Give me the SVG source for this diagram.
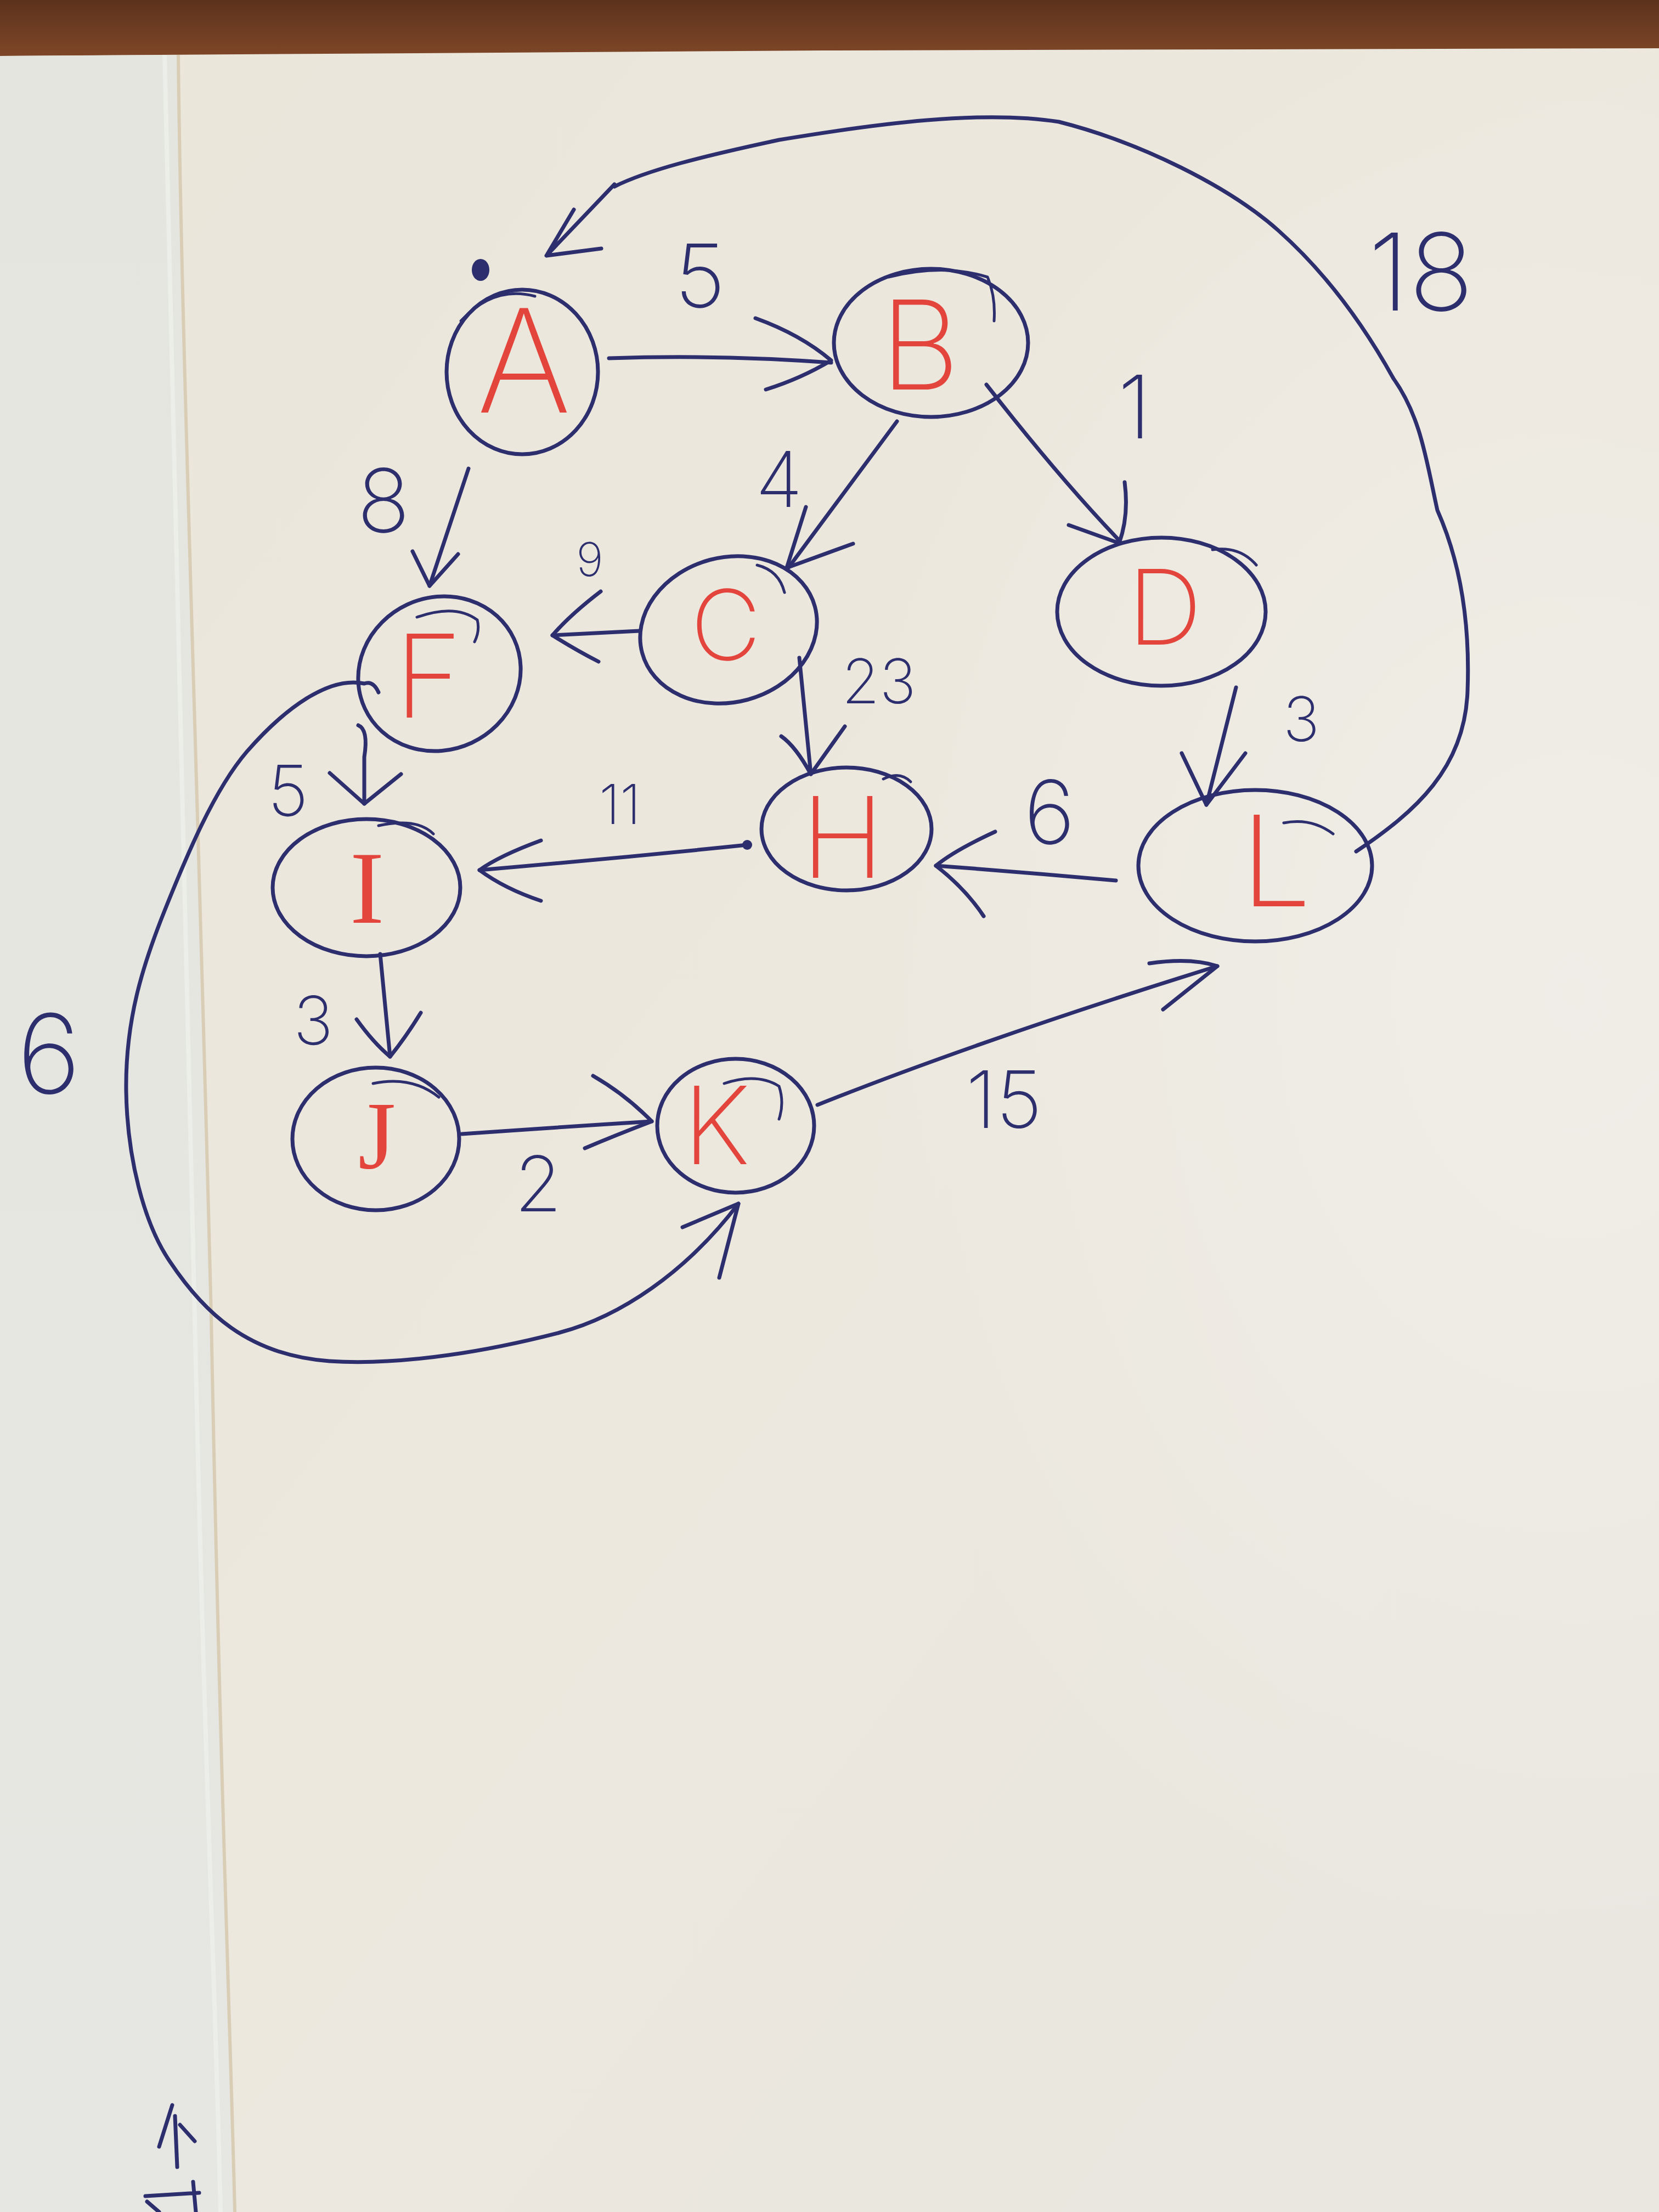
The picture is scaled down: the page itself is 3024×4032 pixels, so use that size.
<svg xmlns="http://www.w3.org/2000/svg" width="3024" height="4032" viewBox="0 0 3024 4032">
<defs>
<linearGradient id="wood" x1="0" y1="0" x2="0" y2="1">
<stop offset="0" stop-color="#5c321c"/>
<stop offset="1" stop-color="#7e4628"/>
</linearGradient>
<linearGradient id="paperR" x1="0" y1="0" x2="1" y2="1">
<stop offset="0" stop-color="#ebe6da"/>
<stop offset="0.5" stop-color="#ece8de"/>
<stop offset="1" stop-color="#e9e7e0"/>
</linearGradient>
<radialGradient id="glow" cx="0.95" cy="0.45" r="0.45">
<stop offset="0" stop-color="#f1efe9" stop-opacity="0.8"/>
<stop offset="1" stop-color="#f1efe9" stop-opacity="0"/>
</radialGradient>
<linearGradient id="paperL" x1="0" y1="0" x2="0" y2="1">
<stop offset="0" stop-color="#e4e5df"/>
<stop offset="1" stop-color="#e6e7e2"/>
</linearGradient>
<style>
.ink{fill:none;stroke:#2c2e6e;stroke-width:7;stroke-linecap:round;stroke-linejoin:round}
.node{fill:none;stroke:#2c2e6e;stroke-width:7}
.scrib{fill:none;stroke:#2c2e6e;stroke-width:5;stroke-linecap:round}
.lbl{font-family:"Inter","Lato","Open Sans","Liberation Sans",sans-serif;font-weight:200;fill:#2c2e6e;text-anchor:middle}
.let{font-family:"Inter","Lato","Open Sans","Liberation Sans",sans-serif;font-weight:200;fill:#e3453d;text-anchor:middle}
.serif{font-family:"Liberation Serif",serif;font-weight:normal}
</style>
</defs>

<!-- background: table and paper -->
<rect x="0" y="0" width="3024" height="4032" fill="url(#paperR)"/>
<rect x="0" y="0" width="3024" height="4032" fill="url(#glow)"/>
<path d="M0,0 H3024 V88 L1500,92 L0,102 Z" fill="url(#wood)"/>
<path d="M0,102 L325,100 C330,600 360,1400 385,2400 C400,3200 420,3700 428,4032 L0,4032 Z" fill="url(#paperL)"/>
<path d="M325,100 C330,600 360,1400 385,2400 C400,3200 420,3700 428,4032" fill="none" stroke="#d9cdb6" stroke-width="6"/>
<path d="M300,100 C305,600 330,1400 355,2400 C372,3200 395,3700 402,4032" fill="none" stroke="#eef0ec" stroke-width="8" opacity="0.8"/>

<!-- connectors -->
<g id="connectors">
<!-- A -> B (5) -->
<path class="ink" d="M1110,653 Q1310,646 1515,661"/>
<path class="ink" d="M1377,580 Q1460,610 1515,657 Q1460,690 1396,710"/>
<!-- B -> C (4) -->
<path class="ink" d="M1635,768 L1437,1035"/>
<path class="ink" d="M1469,924 L1434,1035 L1555,991"/>
<!-- B -> D (1) -->
<path class="ink" d="M1798,701 Q1930,870 2040,985"/>
<path class="ink" d="M2050,879 Q2058,940 2040,990 L1948,957"/>
<!-- A -> F (8) -->
<path class="ink" d="M854,854 L783,1068"/>
<path class="ink" d="M752,1005 L783,1068 L835,1010"/>
<!-- C -> F (9) -->
<path class="ink" d="M1165,1150 L1007,1158"/>
<path class="ink" d="M1095,1078 Q1040,1120 1007,1158 Q1050,1185 1091,1206"/>
<!-- C -> H (23) -->
<path class="ink" d="M1457,1199 L1478,1411"/>
<path class="ink" d="M1424,1342 Q1450,1360 1478,1411 L1540,1324"/>
<!-- D -> L (3) -->
<path class="ink" d="M2253,1253 L2199,1467"/>
<path class="ink" d="M2154,1373 L2199,1467 L2270,1373"/>
<!-- L -> H (6) -->
<path class="ink" d="M2034,1605 Q1870,1590 1706,1578"/>
<path class="ink" d="M1814,1516 Q1740,1550 1706,1578 Q1760,1620 1793,1670"/>
<!-- H -> I (11) -->
<path class="ink" d="M1362,1540 Q1120,1565 874,1586"/>
<circle cx="1362" cy="1540" r="9" fill="#2c2e6e"/>
<path class="ink" d="M986,1532 Q910,1560 874,1586 Q920,1620 986,1642"/>
<!-- F -> I (5) -->
<path class="ink" d="M653,1322 Q672,1330 664,1380 L664,1465"/>
<path class="ink" d="M601,1409 L664,1465 L731,1411"/>
<!-- I -> J (3) -->
<path class="ink" d="M693,1739 L711,1926"/>
<path class="ink" d="M650,1858 Q680,1900 711,1926 Q740,1890 767,1846"/>
<!-- J -> K (2) -->
<path class="ink" d="M842,2067 Q1010,2055 1188,2044"/>
<path class="ink" d="M1081,1961 Q1140,1995 1188,2044 Q1120,2070 1066,2093"/>
<!-- K -> L (15) -->
<path class="ink" d="M1490,2014 C1650,1950 1900,1860 2219,1761"/>
<path class="ink" d="M2095,1756 Q2170,1745 2219,1761 L2120,1840"/>
<!-- F -> K (6) -->
<path class="ink" d="M690,1262 Q680,1240 664,1246 C600,1232 520,1290 450,1370 C390,1440 340,1560 300,1660 C260,1760 228,1860 230,1990 C232,2110 262,2230 310,2300 C370,2390 450,2470 600,2481 C740,2490 900,2460 1020,2429 C1130,2400 1250,2320 1346,2194"/>
<path class="ink" d="M1244,2237 L1346,2194 L1311,2329"/>
<!-- L -> A (18) -->
<path class="ink" d="M2472,1552 C2580,1480 2670,1400 2675,1260 C2680,1130 2660,1020 2620,930 C2600,840 2590,760 2540,690 C2490,600 2420,500 2330,420 C2240,340 2080,260 1930,222 C1790,200 1600,225 1420,255 C1280,285 1180,310 1120,340"/>
<path class="ink" d="M1120,336 L996,466 L1096,453 M1046,382 L996,466"/>
</g>

<!-- nodes -->
<g id="node-A">
<ellipse class="node" cx="952" cy="678" rx="138" ry="150"/>
<path class="scrib" d="M840,585 Q900,520 975,540"/>
<text class="let" x="955" y="752" font-size="262">A</text>
</g>
<g id="node-B">
<ellipse class="node" cx="1697" cy="625" rx="177" ry="135"/>
<path class="scrib" d="M1620,505 Q1720,480 1800,505 Q1815,540 1812,585"/>
<text class="let" x="1677" y="710" font-size="225">B</text>
</g>
<g id="node-C">
<ellipse class="node" cx="1328" cy="1148" rx="163" ry="132" transform="rotate(-15 1328 1148)"/>
<path class="scrib" d="M1380,1030 Q1420,1040 1430,1080"/>
<text class="let" x="1323" y="1203" font-size="177">C</text>
</g>
<g id="node-D">
<ellipse class="node" cx="2117" cy="1115" rx="190" ry="135"/>
<path class="scrib" d="M2210,1002 Q2260,995 2290,1030"/>
<text class="let" x="2123" y="1175" font-size="190">D</text>
</g>
<g id="node-F">
<ellipse class="node" cx="801" cy="1228" rx="150" ry="139" transform="rotate(-25 801 1228)"/>
<path class="scrib" d="M760,1125 Q830,1100 870,1130 Q875,1150 865,1170"/>
<text class="let" x="781" y="1308" font-size="210">F</text>
</g>
<g id="node-H">
<ellipse class="node" cx="1543" cy="1511" rx="155" ry="112"/>
<path class="scrib" d="M1610,1420 Q1640,1405 1660,1425"/>
<text class="let" x="1536" y="1600" font-size="205">H</text>
</g>
<g id="node-L">
<ellipse class="node" cx="2288" cy="1578" rx="213" ry="138"/>
<path class="scrib" d="M2340,1500 Q2390,1490 2430,1520"/>
<text class="let" x="2326" y="1652" font-size="230">L</text>
</g>
<g id="node-I">
<ellipse class="node" cx="668" cy="1618" rx="171" ry="125"/>
<path class="scrib" d="M690,1505 Q760,1490 790,1520"/>
<text class="let serif" x="669" y="1682" font-size="188">I</text>
</g>
<g id="node-J">
<ellipse class="node" cx="685" cy="2076" rx="152" ry="130"/>
<path class="scrib" d="M680,1975 Q750,1960 800,2000"/>
<text class="let serif" x="687" y="2129" font-size="176">J</text>
</g>
<g id="node-K">
<ellipse class="node" cx="1341" cy="2052" rx="143" ry="122"/>
<path class="scrib" d="M1320,1975 Q1380,1955 1420,1980 Q1430,2010 1420,2040"/>
<text class="let" x="1306" y="2122" font-size="197">K</text>
</g>

<!-- pen dot near A -->
<ellipse cx="876" cy="492" rx="16" ry="20" fill="#2c2e6e"/>

<!-- edge weights -->
<g id="labels">
<text class="lbl" x="1276" y="560" font-size="160">5</text>
<text class="lbl" x="2590" y="566" font-size="195">18</text>
<text class="lbl" x="1420" y="924" font-size="140">4</text>
<text class="lbl" x="2068" y="799" font-size="160">1</text>
<text class="lbl" x="699" y="970" font-size="160">8</text>
<text class="lbl" x="1075" y="1050" font-size="85">9</text>
<text class="lbl" x="1602" y="1282" font-size="112">23</text>
<text class="lbl" x="2372" y="1351" font-size="112">3</text>
<text class="lbl" x="1913" y="1538" font-size="160">6</text>
<text class="lbl" x="1130" y="1502" font-size="100">11</text>
<text class="lbl" x="525" y="1487" font-size="128">5</text>
<text class="lbl" x="571" y="1904" font-size="122">3</text>
<text class="lbl" x="89" y="1993" font-size="200">6</text>
<text class="lbl" x="981" y="2208" font-size="140">2</text>
<text class="lbl" x="1830" y="2056" font-size="145">15</text>
</g>

<!-- stray pen marks at bottom left edge -->
<path class="ink" d="M314,3837 L290,3913 M319,3857 L323,3950 M328,3873 L355,3903 M265,4003 L363,3997 M352,3977 L357,4032 M268,4013 L290,4032"/>
</svg>
